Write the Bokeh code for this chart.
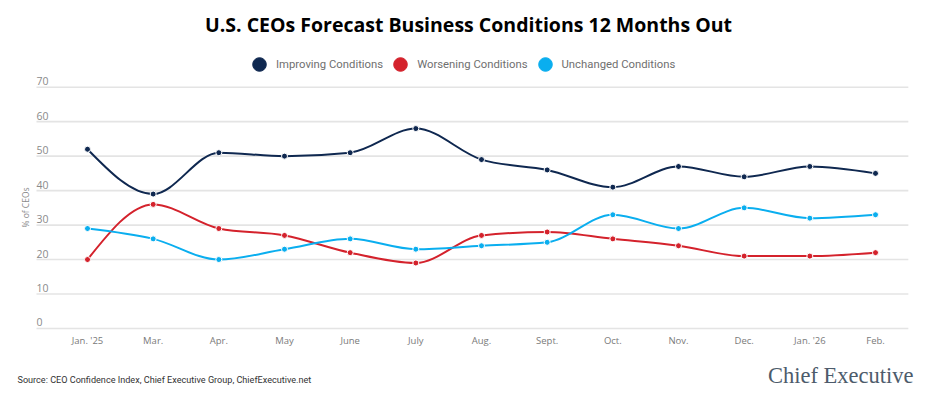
import numpy as np
from bokeh.plotting import figure
from bokeh.models import (ColumnDataSource, Label, Legend, LegendItem, Range1d)
from bokeh.core.properties import value
from bokeh.embed import file_html
from bokeh.resources import INLINE

months = ["Jan. '25", "Mar.", "Apr.", "May", "June", "July", "Aug.", "Sept.",
          "Oct.", "Nov.", "Dec.", "Jan. '26", "Feb."]
improving = [52, 39, 51, 50, 51, 58, 49, 46, 41, 47, 44, 47, 45]
worsening = [20, 36, 29, 27, 22, 19, 27, 28, 26, 24, 21, 21, 22]
unchanged = [29, 26, 20, 23, 26, 23, 24, 25, 33, 29, 35, 32, 33]
series_names = ["Improving Conditions", "Worsening Conditions", "Unchanged Conditions"]
colors = ["#0f2850", "#d4222c", "#0aaeef"]
y_ticks = [0, 10, 20, 30, 40, 50, 60, 70]

W, H = 928, 391
# frame covers the whole canvas; chart area spans x in [-0.777, 12.5]
X_LO, X_HI = -0.777, 12.5
p = figure(width=W, height=H, output_backend="svg", toolbar_location=None,
           x_range=Range1d(-1.325, 12.807), y_range=Range1d(-18.28, 95.15),
           min_border=0, min_border_left=0, min_border_right=0,
           min_border_top=0, min_border_bottom=0)
p.outline_line_color = None
p.background_fill_color = "white"
p.border_fill_color = "white"
p.xaxis.visible = False
p.yaxis.visible = False
p.xgrid.visible = False
p.ygrid.visible = False

# horizontal gridlines
p.segment(x0=[X_LO] * len(y_ticks), x1=[X_HI] * len(y_ticks), y0=y_ticks, y1=y_ticks,
          line_color="#e4e4e4", line_width=1.6)

# y tick labels above gridlines
p.text(x=[X_LO] * len(y_ticks), y=y_ticks, text=[str(t) for t in y_ticks],
       text_font=value("Open Sans"), text_font_size="10.5px", text_color="#8a8a8a",
       text_baseline="bottom", text_align="left", y_offset=-2)

xs = list(range(len(months)))
# x category labels
p.text(x=xs, y=[0] * len(xs), text=months, text_font=value("Open Sans"),
       text_font_size="9.5px", text_color="#7a7a7a", text_align="center",
       text_baseline="top", y_offset=6)


def monotone_beziers(xs, ys):
    xs = np.asarray(xs, float); ys = np.asarray(ys, float)
    n = len(xs)
    h = np.diff(xs); s = np.diff(ys) / h
    t = np.zeros(n)
    for i in range(1, n - 1):
        s0, s1 = s[i - 1], s[i]
        pp = (s0 * h[i] + s1 * h[i - 1]) / (h[i - 1] + h[i])
        t[i] = (np.sign(s0) + np.sign(s1)) * min(abs(s0), abs(s1), 0.5 * abs(pp))
    t[0] = (3 * s[0] - t[1]) / 2
    t[-1] = (3 * s[-1] - t[-2]) / 2
    x0 = xs[:-1]; x1 = xs[1:]; y0 = ys[:-1]; y1 = ys[1:]
    cx0 = x0 + h / 3; cy0 = y0 + h * t[:-1] / 3
    cx1 = x1 - h / 3; cy1 = y1 - h * t[1:] / 3
    return dict(x0=x0, y0=y0, x1=x1, y1=y1, cx0=cx0, cy0=cy0, cx1=cx1, cy1=cy1)


legend_items = []
for name, ys, c in zip(series_names, [improving, worsening, unchanged], colors):
    bz = ColumnDataSource(monotone_beziers(xs, ys))
    p.bezier(x0="x0", y0="y0", x1="x1", y1="y1", cx0="cx0", cy0="cy0",
             cx1="cx1", cy1="cy1", source=bz, line_color=c, line_width=2)
    p.scatter(x=xs, y=ys, size=6, fill_color=c, line_color="white", line_width=1)
    # legend-only renderer (NaN point: nothing drawn in the plot)
    dummy = p.scatter(x=[np.nan], y=[np.nan], size=14, fill_color=c, line_color=c)
    legend_items.append(LegendItem(label=name, renderers=[dummy]))

legend = Legend(items=legend_items, orientation="horizontal", location=(242, 310),
                border_line_color=None, background_fill_alpha=0,
                label_text_font="Roboto", label_text_font_size="11.3px",
                label_text_color="#6f6f6f", glyph_width=34, glyph_height=34,
                label_standoff=0, spacing=0, padding=0, margin=0)
p.add_layout(legend, "center")

# title & texts (screen units, origin bottom-left of the canvas)
p.add_layout(Label(x=468, y=367, x_units="screen", y_units="screen",
                   text="U.S. CEOs Forecast Business Conditions 12 Months Out",
                   text_font="Open Sans", text_font_style="bold",
                   text_font_size="19.5px", text_color="#000000",
                   text_align="center", text_baseline="middle"))
p.add_layout(Label(x=25, y=184, x_units="screen", y_units="screen",
                   text="% of CEOs", angle=np.pi / 2, text_font="Open Sans",
                   text_font_size="8.5px", text_color="#8a8a8a",
                   text_align="center", text_baseline="middle"))
p.add_layout(Label(x=17, y=12, x_units="screen", y_units="screen",
                   text="Source: CEO Confidence Index, Chief Executive Group, ChiefExecutive.net",
                   text_font="Roboto", text_font_size="9.1px", text_color="#333333",
                   text_align="left", text_baseline="middle"))
p.add_layout(Label(x=913, y=16, x_units="screen", y_units="screen",
                   text="Chief Executive", text_font="Liberation Serif",
                   text_font_size="22.5px", text_color="#4d5b6b",
                   text_align="right", text_baseline="middle"))

open("out.html", "w").write(file_html(p, INLINE))
